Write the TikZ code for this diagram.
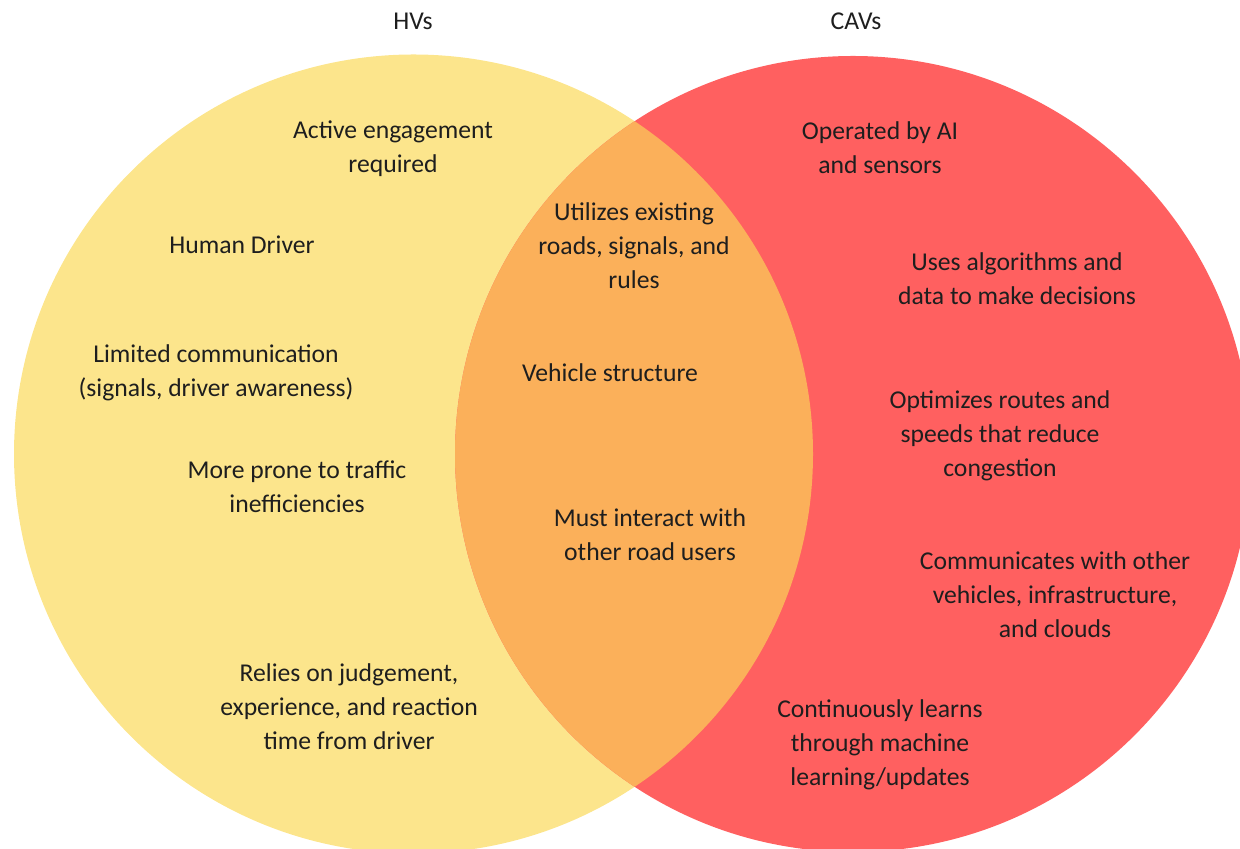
\documentclass[tikz,border=0pt]{standalone}
\usepackage{fontspec}
\setmainfont{Carlito}
\definecolor{hvyellow}{RGB}{252,229,140}
\definecolor{cavred}{RGB}{255,96,96}
\definecolor{bothorange}{RGB}{251,176,90}
\definecolor{inktext}{RGB}{30,30,30}

\begin{document}
\begin{tikzpicture}[
  txt/.style={align=center,text=inktext,font=\fontsize{14.6}{19.4}\selectfont},
  ttl/.style={text=inktext,font=\fontsize{14.6}{19.4}\selectfont}]
   \useasboundingbox (0,0) rectangle (24.8,16.98);
   % the two sets
   \fill[hvyellow] (8.27,7.9) circle (7.99);
   \fill[cavred] (17.06,7.9) circle (7.96);
   \begin{scope}
     \clip (8.27,7.9) circle (7.99);
     \fill[bothorange] (17.06,7.9) circle (7.96);
   \end{scope}
   % titles
   \path (8.26,16.56) node[ttl] (hvT) {HVs};
   \path (17.12,16.56) node[ttl] (cavT) {CAVs};
   % HVs only
   \path (7.86,14.0) node[txt] (hvA) {Active engagement\\required};
   \path (4.84,12.08) node[txt] (hvB) {Human Driver};
   \path (4.32,9.53) node[txt] (hvC) {Limited communication\\(signals, driver awareness)};
   \path (5.94,7.25) node[txt] (hvD) {More prone to traffic\\inefficiencies};
   \path (6.98,2.84) node[txt] (hvE) {Relies on judgement,\\experience, and reaction\\time from driver};
   % shared
   \path (12.68,12.06) node[txt] (bothA) {Utilizes existing\\roads, signals, and\\rules};
   \path (12.2,9.53) node[txt] (bothB) {Vehicle structure};
   \path (13.0,6.28) node[txt] (bothC) {Must interact with\\other road users};
   % CAVs only
   \path (17.6,14.02) node[txt] (cavA) {Operated by AI\\and sensors};
   \path (20.34,11.41) node[txt] (cavB) {Uses algorithms and\\data to make decisions};
   \path (20.0,8.26) node[txt] (cavC) {Optimizes routes and\\speeds that reduce\\congestion};
   \path (21.1,5.08) node[txt] (cavD) {Communicates with other\\vehicles, infrastructure,\\and clouds};
   \path (17.6,2.08) node[txt] (cavE) {Continuously learns\\through machine\\learning/updates};
\end{tikzpicture}
\end{document}
